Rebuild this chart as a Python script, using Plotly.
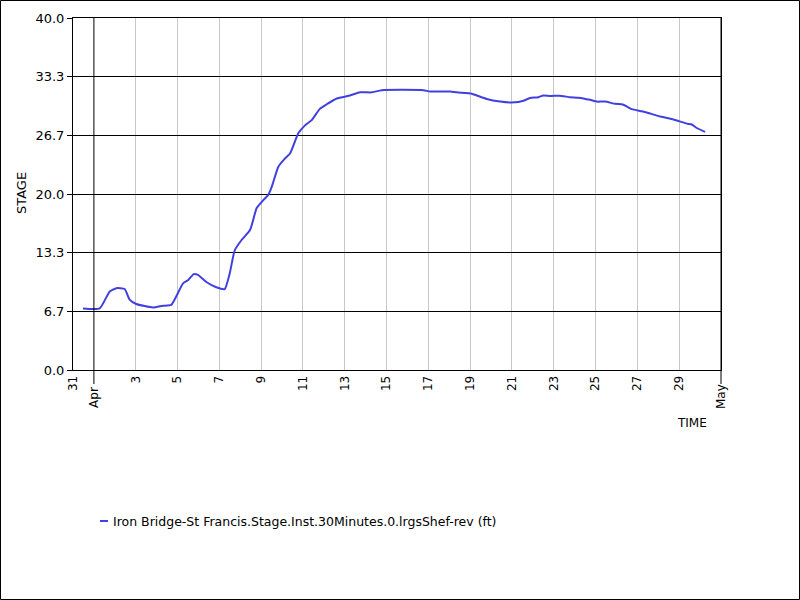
import plotly.graph_objects as go
from datetime import datetime

# ---- data ----
times = [
    "2019-03-31 11:30", "2019-04-01 06:40", "2019-04-01 18:00", "2019-04-02 01:45",
    "2019-04-02 11:20", "2019-04-02 17:00", "2019-04-03 00:40", "2019-04-03 19:50",
    "2019-04-04 07:20", "2019-04-04 16:50", "2019-04-05 06:20", "2019-04-05 12:00",
    "2019-04-05 18:35", "2019-04-05 23:30", "2019-04-06 09:05", "2019-04-06 20:30",
    "2019-04-07 06:10", "2019-04-07 12:00", "2019-04-07 17:40", "2019-04-08 01:45",
    "2019-04-08 11:15", "2019-04-08 18:55", "2019-04-09 02:30", "2019-04-09 08:15",
    "2019-04-09 12:10", "2019-04-09 19:45", "2019-04-10 03:30", "2019-04-10 09:10",
    "2019-04-10 18:40", "2019-04-11 02:25", "2019-04-11 10:05", "2019-04-11 19:40",
    "2019-04-12 03:20", "2019-04-12 14:50", "2019-04-13 06:05", "2019-04-13 17:35",
    "2019-04-14 07:00", "2019-04-14 18:30", "2019-04-16 18:15", "2019-04-17 01:55",
    "2019-04-18 00:55", "2019-04-18 08:35", "2019-04-19 01:50", "2019-04-19 07:35",
    "2019-04-19 19:05", "2019-04-20 10:20", "2019-04-20 21:50", "2019-04-21 07:20",
    "2019-04-21 13:05", "2019-04-21 20:50", "2019-04-22 06:20", "2019-04-22 12:05",
    "2019-04-22 19:45", "2019-04-23 09:10", "2019-04-23 18:40", "2019-04-24 04:15",
    "2019-04-24 17:40", "2019-04-25 01:20", "2019-04-25 10:55", "2019-04-25 22:25",
    "2019-04-26 07:55", "2019-04-26 17:35", "2019-04-27 05:05", "2019-04-27 14:35",
    "2019-04-28 02:05", "2019-04-28 11:35", "2019-04-28 23:05", "2019-04-29 08:45",
    "2019-04-29 14:30", "2019-04-29 20:10", "2019-04-30 05:45",
]
stage = [
    7.0, 7.0, 8.9, 9.3,
    9.2, 8.0, 7.5, 7.1,
    7.3, 7.4, 9.85, 10.2,
    10.9, 10.8, 10.0, 9.4,
    9.2, 11.0, 13.6, 14.8,
    15.9, 18.4, 19.3, 19.9,
    20.8, 23.1, 24.05, 24.6,
    26.9, 27.8, 28.4, 29.7,
    30.2, 30.85, 31.2, 31.55,
    31.55, 31.8, 31.8, 31.65,
    31.65, 31.55, 31.4, 31.2,
    30.8, 30.5, 30.4, 30.45,
    30.6, 30.9, 31.0, 31.2,
    31.15, 31.15, 31.0, 30.95,
    30.7, 30.5, 30.5, 30.25,
    30.15, 29.65, 29.4, 29.15,
    28.8, 28.6, 28.3, 28.0,
    27.9, 27.5, 27.05,
]
series_name = "Iron Bridge-St Francis.Stage.Inst.30Minutes.0.lrgsShef-rev (ft)"

x_start = "2019-03-31 00:00"
x_end = "2019-05-01 00:00"
day_tick_vals = ["2019-03-31"] + ["2019-04-%02d" % d for d in range(3, 30, 2)]
day_tick_text = ["31"] + [str(d) for d in range(3, 30, 2)]
month_vals = ["2019-04-01", "2019-05-01"]
month_text = ["Apr", "May"]

y_tick_vals = [0, 20 / 3, 40 / 3, 20, 80 / 3, 100 / 3, 40]
y_tick_text = ["0.0", "6.7", "13.3", "20.0", "26.7", "33.3", "40.0"]

# ---- layout geometry (pixels) ----
W, H = 800, 600
L, R, T, B = 73, 79, 18, 230
PW, PH = W - L - R, H - T - B

FONT = "DejaVu Sans, Verdana, sans-serif"
LINE_COLOR = "#4040e0"

fig = go.Figure()
fig.add_trace(go.Scatter(
    x=times, y=stage, mode="lines", name=series_name,
    line=dict(color=LINE_COLOR, width=2, shape="spline", smoothing=0.5),
    showlegend=False, hoverinfo="skip",
))

def px_x(p):
    return (p - L) / PW

def px_y(p):
    return (H - B - p) / PH

t0 = datetime.fromisoformat(x_start)
t1 = datetime.fromisoformat(x_end)

def date_frac(s):
    d = datetime.fromisoformat(s)
    return (d - t0).total_seconds() / (t1 - t0).total_seconds()

shapes = []
annotations = []
# month boundary lines (black, extending below axis as ticks)
for mv, mt in zip(month_vals, month_text):
    xf = date_frac(mv)
    shapes.append(dict(type="line", xref="paper", yref="paper",
                       x0=xf, x1=xf, y0=-14 / PH, y1=1,
                       line=dict(color="black", width=1), layer="above"))
    annotations.append(dict(xref="paper", yref="paper", x=xf, y=-27 / PH,
                            text=mt, showarrow=False, textangle=-90,
                            xanchor="center", yanchor="middle",
                            font=dict(family=FONT, size=12, color="black")))

# outer frame
shapes.append(dict(type="rect", xref="paper", yref="paper",
                   x0=px_x(0.5), x1=px_x(W - 0.5),
                   y0=px_y(H - 0.5), y1=px_y(0.5),
                   line=dict(color="black", width=1), fillcolor="rgba(0,0,0,0)"))

# manual legend
shapes.append(dict(type="line", xref="paper", yref="paper",
                   x0=px_x(100), x1=px_x(108), y0=px_y(521), y1=px_y(521),
                   line=dict(color=LINE_COLOR, width=2)))
annotations.append(dict(xref="paper", yref="paper", x=px_x(111), y=px_y(521),
                        text=series_name, showarrow=False,
                        xanchor="left", yanchor="middle",
                        font=dict(family=FONT, size=12.5, color="black")))

# axis titles
annotations.append(dict(xref="paper", yref="paper", x=px_x(709), y=px_y(423),
                        text="TIME", showarrow=False, xanchor="right", yanchor="middle",
                        font=dict(family=FONT, size=12, color="black")))
annotations.append(dict(xref="paper", yref="paper", x=px_x(21), y=px_y(193),
                        text="STAGE", showarrow=False, textangle=-90,
                        xanchor="center", yanchor="middle",
                        font=dict(family=FONT, size=13, color="black")))

fig.update_layout(
    width=W, height=H,
    margin=dict(l=L, r=R, t=T, b=B, autoexpand=False),
    paper_bgcolor="white", plot_bgcolor="white",
    font=dict(family=FONT, size=12, color="black"),
    shapes=shapes, annotations=annotations,
    showlegend=False,
    xaxis=dict(
        type="date", range=[x_start, x_end],
        tickmode="array", tickvals=day_tick_vals, ticktext=day_tick_text,
        tickangle=-90, ticks="", showgrid=True, gridcolor="#c8c8c8", gridwidth=1,
        showline=True, linecolor="black", linewidth=1, mirror=True,
        zeroline=False, tickfont=dict(family=FONT, size=12, color="black"),
    ),
    yaxis=dict(
        range=[0, 40], tickmode="array", tickvals=y_tick_vals, ticktext=y_tick_text,
        ticks="outside", ticklen=5, tickcolor="black",
        showgrid=True, gridcolor="black", gridwidth=1,
        showline=True, linecolor="black", linewidth=1, mirror=True,
        zeroline=False, tickfont=dict(family=FONT, size=13, color="black"),
    ),
)

fig.write_html("out.html", config={"displayModeBar": False},
               post_script="document.body.style.margin='0';")
